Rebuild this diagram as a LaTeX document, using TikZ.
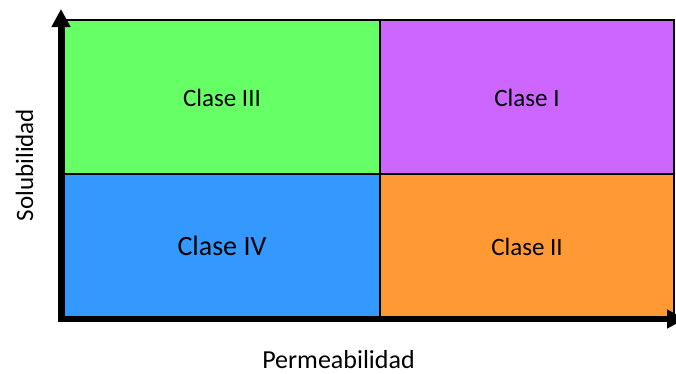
\documentclass[tikz,border=0pt]{standalone}
\usepackage{fontspec}
\setmainfont{Carlito}
\usetikzlibrary{arrows.meta}
\definecolor{cgreen}{HTML}{66FF66}
\definecolor{cpurple}{HTML}{CC66FF}
\definecolor{cblue}{HTML}{3399FF}
\definecolor{corange}{HTML}{FF9933}
\tikzset{
  quad/.style={draw=none},
  divider/.style={black, line width=2pt},
  axis/.style={black, -{Triangle[length=18pt,width=18pt]}},
  lab/.style={font=\fontsize{25pt}{28pt}\selectfont, anchor=base, inner sep=0pt},
  biglab/.style={font=\fontsize{28pt}{32pt}\selectfont, anchor=base, inner sep=0pt},
}
\begin{document}
\begin{tikzpicture}[x=1pt,y=-1pt]
\useasboundingbox (0,0) rectangle (676,373);
\clip (0,0) rectangle (676,373);
% quadrants
\fill[cgreen] (65,20) rectangle (380,173);
\fill[cpurple] (380,20) rectangle (674,173);
\fill[cblue] (65,173) rectangle (380,318);
\fill[corange] (380,173) rectangle (674,318);
% borders and dividers
\draw[divider] (62,20) -- (675,20);
\draw[divider] (674,20) -- (674,318);
\draw[divider] (380,20) -- (380,318);
\draw[divider] (62,173.5) -- (675,173.5);
% axes
\coordinate (origin) at (61,322);
\coordinate (ytip) at (61,9);
\coordinate (xstart) at (58,319);
\coordinate (xtip) at (685,319);
\draw[axis, line width=7pt] (origin) -- (ytip);
\draw[axis, line width=6pt] (xstart) -- (xtip);
% labels
\node[lab] (c3) at (222,106) {Clase III};
\node[lab] (c1) at (527,106) {Clase I};
\node[biglab] (c4) at (222,255.5) {Clase IV};
\node[lab] (c2) at (527,255.5) {Clase II};
\node[font=\fontsize{26pt}{30pt}\selectfont, anchor=base, inner sep=0pt] (px) at (338.5,368) {Permeabilidad};
\node[font=\fontsize{25pt}{30pt}\selectfont, anchor=base, inner sep=0pt, rotate=90] (py) at (33,165) {Solubilidad};
\end{tikzpicture}
\end{document}
